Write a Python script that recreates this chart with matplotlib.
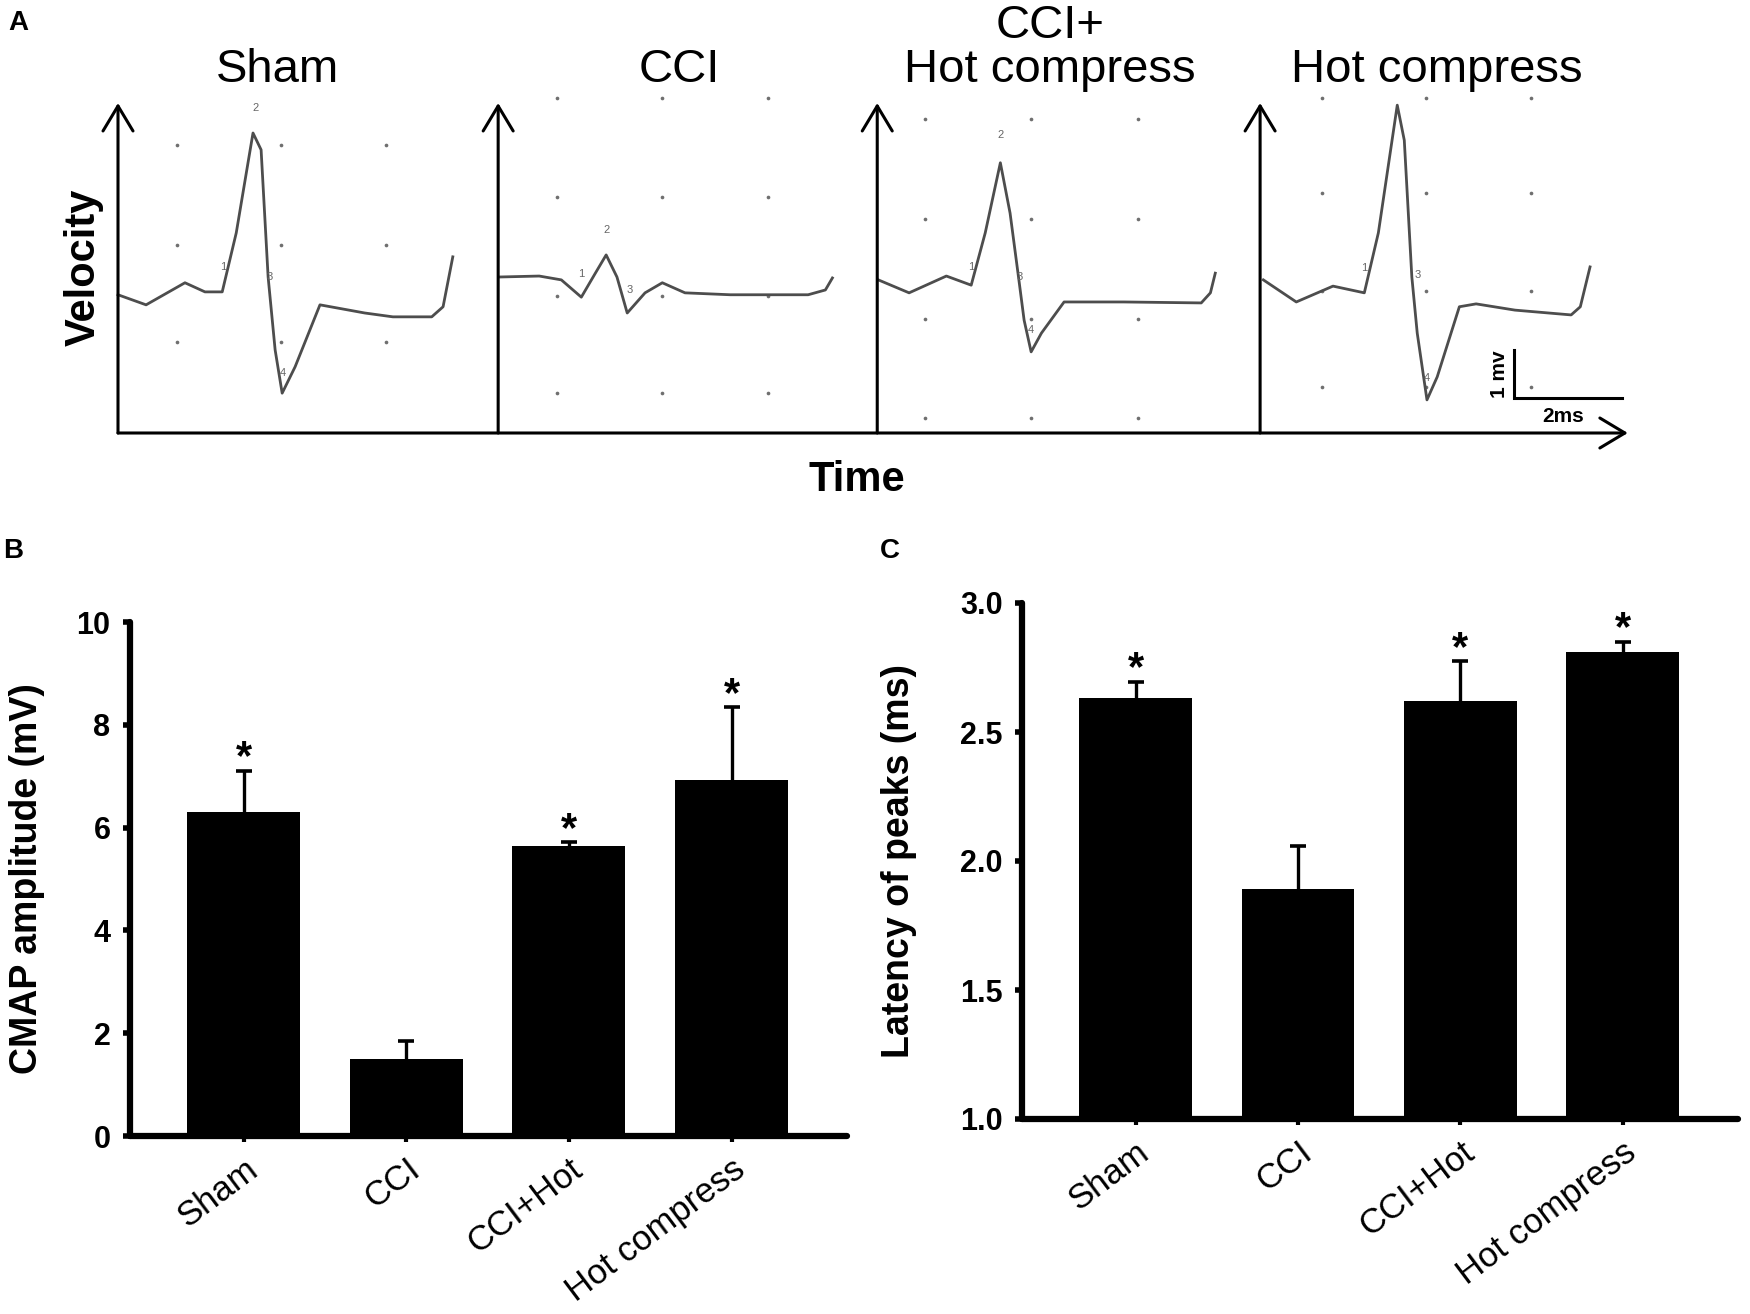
import numpy as np
import matplotlib
matplotlib.use("Agg")
import matplotlib.pyplot as plt
import matplotlib.transforms as mtransforms

plt.rcParams['font.family'] = ['Liberation Sans', 'DejaVu Sans']

# ---- panel A: traces (time in ms, amplitude in mV, per panel) ----
sham_t = [0.0, 0.52, 1.24, 1.61, 1.93, 2.19, 2.50, 2.65, 2.78, 2.91, 3.04, 3.28, 3.74, 4.57, 5.09, 5.81, 6.02, 6.20]
sham_v = [2.88, 2.67, 3.13, 2.94, 2.94, 4.17, 6.25, 5.90, 3.25, 1.73, 0.83, 1.38, 2.67, 2.50, 2.42, 2.42, 2.63, 3.67]

cci_t = [0.02, 0.76, 1.17, 1.54, 1.80, 2.00, 2.20, 2.39, 2.72, 3.04, 3.46, 4.30, 5.74, 6.06, 6.19]
cci_v = [3.25, 3.27, 3.19, 2.83, 3.33, 3.71, 3.25, 2.50, 2.92, 3.13, 2.92, 2.88, 2.88, 2.98, 3.23]

ccihot_t = [0.02, 0.59, 1.28, 1.74, 2.00, 2.28, 2.46, 2.63, 2.72, 2.85, 3.04, 3.46, 4.56, 6.00, 6.17, 6.26]
ccihot_v = [3.19, 2.92, 3.27, 3.08, 4.17, 5.63, 4.58, 3.13, 2.35, 1.69, 2.08, 2.73, 2.73, 2.71, 2.92, 3.33]

hot_t = [0.06, 0.67, 1.35, 1.93, 2.19, 2.54, 2.67, 2.81, 2.91, 3.09, 3.28, 3.69, 4.00, 4.72, 5.76, 5.93, 6.11]
hot_v = [3.19, 2.73, 3.06, 2.92, 4.17, 6.83, 6.10, 3.25, 2.08, 0.69, 1.17, 2.63, 2.69, 2.56, 2.46, 2.63, 3.46]

# recorder grid dots
grid_x = [[1.09, 3.02, 4.96], [1.09, 3.04, 5.00], [0.89, 2.85, 4.83], [1.15, 3.07, 5.02]]
grid_y = [[6.00, 3.92, 1.90], [6.98, 4.92, 2.85, 0.83], [6.54, 4.46, 2.38, 0.31], [6.98, 5.00, 2.96, 0.96]]

# peak numbers printed by the recorder
peak_lab = [['1', '2', '3', '4'], ['1', '2', '3'], ['1', '2', '3', '4'], ['1', '3', '4']]
peak_t = [[1.94, 2.54, 2.80, 3.06], [1.54, 2.00, 2.44], [1.74, 2.28, 2.63, 2.85], [1.93, 2.91, 3.09]]
peak_v = [[3.46, 6.77, 3.25, 1.25], [3.31, 4.23, 2.98], [3.46, 6.21, 3.25, 2.15], [3.44, 3.29, 1.15]]

# ---- panels B and C ----
groups = ['Sham', 'CCI', 'CCI+Hot', 'Hot compress']
cmap_mean = [6.31, 1.50, 5.64, 6.93]
cmap_sem = [0.80, 0.34, 0.08, 1.41]
lat_mean = [2.63, 1.89, 2.62, 2.81]
lat_sem = [0.065, 0.167, 0.154, 0.039]
signif = [True, False, True, True]

W, H = 1750, 1314
fig = plt.figure(figsize=(W / 100, H / 100), dpi=100)


def fx(px):
    return px / W


def fy(py):
    return 1 - py / H


# ================= A =================
ms_px, mv_px = 54.0, 48.0
ax_a = fig.add_axes([fx(118), fy(433), 1522 / W, 343 / H])
ax_a.set_xlim(0, 1522 / ms_px)
ax_a.set_ylim(0, 343 / mv_px)
ax_a.axis('off')

offsets = [0.0, 7.04, 14.06, 21.15]
traces = [(sham_t, sham_v), (cci_t, cci_v), (ccihot_t, ccihot_v), (hot_t, hot_v)]
arrow_kw = dict(arrowstyle='->,head_length=0.5,head_width=0.3', lw=2.2,
                color='black', shrinkA=0, shrinkB=0, mutation_scale=36)

for i, o in enumerate(offsets):
    gx, gy = np.meshgrid(np.array(grid_x[i]) + o, grid_y[i])
    ax_a.scatter(gx.ravel(), gy.ravel(), s=7, color='#6f6f6f', lw=0, clip_on=False)
    t, v = traces[i]
    ax_a.plot(np.array(t) + o, v, color='#4d4d4d', lw=2.0, clip_on=False,
              solid_joinstyle='round')
    for lab, pt, pv in zip(peak_lab[i], peak_t[i], peak_v[i]):
        ax_a.text(pt + o, pv, lab, fontsize=8, color='#666666', ha='center', va='center')
    ax_a.annotate('', xy=(o, 6.875), xytext=(o, 0), arrowprops=arrow_kw)

ax_a.annotate('', xy=(27.96, 0), xytext=(0, 0), arrowprops=arrow_kw)

# scale bar 1 mV / 2 ms
sb_x, sb_y = 25.85, 0.73
ax_a.plot([sb_x, sb_x, sb_x + 2.0], [sb_y + 1.0, sb_y, sb_y], color='black', lw=2.2,
          solid_joinstyle='miter')
ax_a.text(sb_x - 0.17, sb_y + 0.5, '1 mv', rotation=90, fontsize=15, fontweight='bold',
          ha='center', va='baseline', rotation_mode='anchor')
ax_a.text(sb_x + 0.92, sb_y - 0.50, '2ms', fontsize=15, fontweight='bold',
          ha='center', va='baseline')

# titles
fig.text(fx(278), fy(82), 'Sham', fontsize=34, ha='center', va='baseline')
fig.text(fx(679), fy(82), 'CCI', fontsize=34, ha='center', va='baseline')
fig.text(fx(1050), fy(38), 'CCI+', fontsize=34, ha='center', va='baseline')
fig.text(fx(1050), fy(82), 'Hot compress', fontsize=34, ha='center', va='baseline')
fig.text(fx(1437), fy(82), 'Hot compress', fontsize=34, ha='center', va='baseline')

fig.text(fx(95), fy(267), 'Velocity', fontsize=30, fontweight='bold', rotation=90,
         ha='center', va='baseline', rotation_mode='anchor')
fig.text(fx(857), fy(491), 'Time', fontsize=30, fontweight='bold', ha='center', va='baseline')

# panel letters
fig.text(fx(8), fy(30), 'A', fontsize=20, fontweight='bold', ha='left', va='baseline')
fig.text(fx(3), fy(558), 'B', fontsize=20, fontweight='bold', ha='left', va='baseline')
fig.text(fx(880), fy(558), 'C', fontsize=20, fontweight='bold', ha='left', va='baseline')

shift_right = mtransforms.ScaledTranslation(8 / 100, 0, fig.dpi_scale_trans)


# ================= B and C =================
def bar_panel(rect, means, sems, ylim, yticks, yticklabels, ylabel, label_x):
    ax = fig.add_axes(rect)
    x = np.arange(len(groups))
    ax.bar(x, means, width=0.695, color='black', zorder=2)
    # symmetric bars drawn behind the columns, so only the upper half shows
    ax.errorbar(x, means, yerr=sems, fmt='none', ecolor='black',
                elinewidth=2.4, capsize=6, capthick=2.6, zorder=1)
    for xi, m, s, sig in zip(x, means, sems, signif):
        if sig:
            ax.annotate('*', xy=(xi, m + s), xytext=(0, 1), textcoords='offset points',
                        ha='center', va='baseline', fontsize=30, fontweight='bold')
    ax.set_xlim(-0.70, 3.71)
    ax.set_ylim(*ylim)
    ax.set_yticks(yticks)
    ax.set_yticklabels(yticklabels, fontsize=22, fontweight='bold')
    ax.set_xticks(x)
    ax.set_xticklabels(groups, fontsize=25, rotation=37, ha='right', va='top',
                       rotation_mode='anchor')
    for lab in ax.get_xticklabels():
        lab.set_transform(lab.get_transform() + shift_right)
    for sp in ['top', 'right']:
        ax.spines[sp].set_visible(False)
    for sp in ['left', 'bottom']:
        ax.spines[sp].set_linewidth(4.5)
        ax.spines[sp].set_capstyle('round')
    ax.tick_params(axis='y', direction='out', length=5, width=4, pad=9)
    ax.tick_params(axis='x', direction='out', length=4, width=3, pad=8)
    ax.set_ylabel(ylabel, fontsize=27, fontweight='bold')
    ax.yaxis.set_label_coords(label_x, 0.5)
    return ax


bar_panel([fx(130), fy(1136), 717 / W, 514 / H], cmap_mean, cmap_sem,
          (0, 10), [0, 2, 4, 6, 8, 10], ['0', '2', '4', '6', '8', '10'],
          'CMAP amplitude (mV)', -0.118)

bar_panel([fx(1022), fy(1119), 716 / W, 516 / H], lat_mean, lat_sem,
          (1.0, 3.0), [1.0, 1.5, 2.0, 2.5, 3.0], ['1.0', '1.5', '2.0', '2.5', '3.0'],
          'Latency of peaks (ms)', -0.147)

fig.savefig('out.png', dpi=100)
